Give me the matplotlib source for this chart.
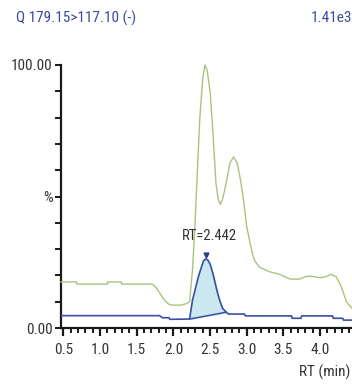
import numpy as np
import matplotlib
matplotlib.use("Agg")
import matplotlib.pyplot as plt
from matplotlib.ticker import MultipleLocator, FormatStrFormatter

# === DATA ===
green_t = [0.466, 0.68, 0.681, 1.10, 1.101, 1.29, 1.291, 1.71, 1.76, 1.82, 1.88, 1.94, 1.98,
           2.10, 2.18, 2.22, 2.26, 2.29, 2.33, 2.36, 2.40, 2.43, 2.46, 2.50, 2.54, 2.58,
           2.61, 2.64, 2.67, 2.70, 2.74, 2.77, 2.82, 2.87, 2.91, 2.95, 3.00, 3.04, 3.08,
           3.11, 3.15, 3.18, 3.31, 3.45, 3.59, 3.72, 3.79, 3.86, 4.00, 4.08, 4.15, 4.22,
           4.29, 4.36, 4.436]
green_y = [17.5, 17.5, 16.7, 16.7, 17.5, 17.5, 16.7, 16.7, 15.5, 13.0, 10.5, 9.0, 8.7,
           8.7, 9.3, 10.0, 22.0, 37.0, 62.0, 80.0, 95.0, 100.0, 98.0, 90.0, 74.0, 55.0,
           49.0, 47.0, 49.0, 52.5, 58.0, 62.7, 65.0, 62.7, 57.0, 50.0, 38.5, 33.0, 28.0,
           25.5, 24.0, 23.0, 21.4, 20.4, 18.6, 18.6, 19.4, 19.8, 19.1, 19.5, 20.4, 19.5,
           15.7, 10.0, 7.5]

blue_t = [0.466, 1.81, 1.85, 1.94, 1.95, 2.22, 2.26, 2.30, 2.34, 2.38, 2.41, 2.44, 2.47,
          2.50, 2.54, 2.57, 2.60, 2.63, 2.67, 2.72, 2.75, 2.97, 2.98, 3.61, 3.62, 3.74,
          3.75, 4.17, 4.18, 4.31, 4.32, 4.436]
blue_y = [4.7, 4.7, 3.9, 3.9, 3.3, 3.4, 10.6, 15.0, 19.5, 23.0, 25.5, 26.3, 25.8,
          24.3, 20.5, 17.0, 13.5, 10.6, 7.5, 6.0, 5.3, 5.3, 4.6, 4.6, 3.7, 3.7,
          4.6, 4.6, 3.7, 3.7, 3.0, 3.0]

peak_start, peak_end = 2.22, 2.72
peak_rt = 2.442
peak_height = 26.3
title = "Q 179.15>117.10 (-)"
intensity = "1.41e3"

plt.rcParams["font.family"] = ["Roboto Condensed", "DejaVu Sans"]

fig = plt.figure(figsize=(3.52, 3.84), dpi=100)
ax = fig.add_axes([61 / 352, 1 - 328 / 384, 291 / 352, 263 / 384])

ax.plot(green_t, green_y, color="#a8c47c", lw=1.0, clip_on=False, zorder=3)

bt = np.array(blue_t)
by = np.array(blue_y)
mask = (bt >= peak_start) & (bt <= peak_end)
base = np.interp(bt[mask], [peak_start, peak_end],
                 [np.interp(peak_start, bt, by), np.interp(peak_end, bt, by)])
ax.fill_between(bt[mask], by[mask], base, color="#cbe8f1", zorder=2)
ax.plot([peak_start, peak_end], [base[0], base[-1]], color="#3a50a2", lw=1.1, zorder=4)
ax.plot(bt, by, color="#3a50a2", lw=1.2, zorder=4)
ax.plot([peak_rt], [peak_height + 1.3], marker="v", ms=3.5, color="#2c3e80", zorder=5)
ax.text(peak_rt + 0.05, 35, "RT=%.3f" % peak_rt, ha="center", va="center",
        fontsize=10.5, color="#333333")

ax.set_xlim(0.466, 4.436)
ax.set_ylim(0, 100)
ax.xaxis.set_major_locator(MultipleLocator(0.5))
ax.xaxis.set_minor_locator(MultipleLocator(0.1))
ax.xaxis.set_major_formatter(FormatStrFormatter("%.1f"))
ax.set_yticks(np.arange(0, 101, 10))
ax.set_yticklabels(["0.00", "", "", "", "", "%", "", "", "", "", "100.00"])

for s in ["top", "right"]:
    ax.spines[s].set_visible(False)
for s in ["left", "bottom"]:
    ax.spines[s].set_linewidth(1.6)
    ax.spines[s].set_color("#1a1a1a")

ax.tick_params(axis="x", which="major", length=6, width=1.6, labelsize=11,
               colors="#1a1a1a", labelcolor="#333333", pad=5)
ax.tick_params(axis="x", which="minor", length=3.5, width=1.4, colors="#1a1a1a")
ax.tick_params(axis="y", which="major", length=4, width=1.4, labelsize=11,
               colors="#1a1a1a", labelcolor="#333333", pad=2)

fig.text(16 / 352, 1 - 18 / 384, title, ha="left", va="center", fontsize=11,
         color="#3b4a9a")
fig.text(352 / 352, 1 - 18 / 384, intensity, ha="right", va="center", fontsize=11,
         color="#3b4a9a")
fig.text(350 / 352, 1 - 372 / 384, "RT (min)", ha="right", va="center", fontsize=11,
         color="#333333")

fig.savefig("out.png", dpi=100)
